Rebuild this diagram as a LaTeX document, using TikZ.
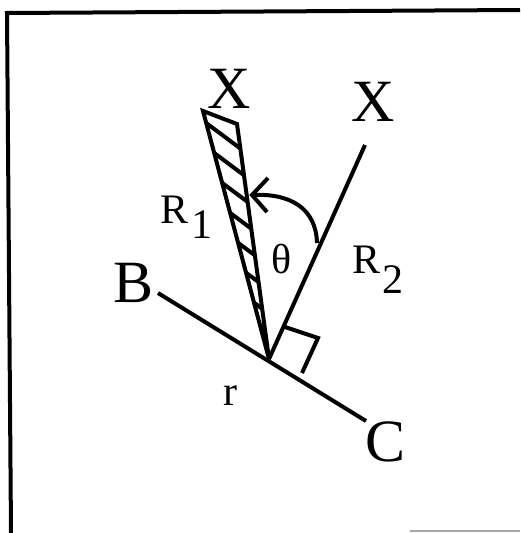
\documentclass[tikz,border=0pt]{standalone}
\usepackage{fontspec}
\setmainfont{Liberation Serif}
\begin{document}
\begin{tikzpicture}[x=1pt,y=-1pt,
  thick line/.style={line width=4pt},
  big/.style={font=\fontsize{60}{60}\selectfont, inner sep=0pt},
  small/.style={font=\fontsize{42}{42}\selectfont, inner sep=0pt}]
\useasboundingbox (0,0) rectangle (520,533);
% frame
\coordinate (fTL) at (7,13);
\coordinate (fTR) at (520,10);
\coordinate (fBL) at (11,533);
\draw[thick line] (fTR) -- (fTL) -- (fBL);
\draw[line width=2pt, black!35] (410,531) -- (520,531);
% key points
\coordinate (P) at (269,359);
\coordinate (Bend) at (158,293);
\coordinate (Cend) at (366,421);
\coordinate (T1) at (203,111);
\coordinate (T1r) at (237,124);
\coordinate (T2) at (365,145);
% base line
\draw[thick line] (Bend) -- (Cend);
% hatched wedge
\begin{scope}
  \clip (T1) -- (T1r) -- (P) -- cycle;
  \foreach \y in {96,120,...,380} {
    \draw[line width=4pt] (170,\y) -- (300,\y+97);
  }
\end{scope}
\draw[thick line, line join=miter] (T1) -- (T1r) -- (P) -- cycle;
% R2 line
\draw[thick line] (P) -- (T2);
% right-angle mark
\coordinate (m1) at (285,327);
\coordinate (m2) at (318,338);
\coordinate (m3) at (302,373);
\draw[thick line] (m1) -- (m2) -- (m3);
% angle arrow
\coordinate (a0) at (317,243);
\coordinate (tip) at (252,195);
\coordinate (b1) at (268,178);
\coordinate (b2) at (267,212);
\draw[thick line] (a0) .. controls (316,208) and (290,193) .. (tip);
\draw[thick line] (b1) -- (tip) -- (b2);
% labels
\node[big, anchor=base] (X1) at (229,108) {X};
\node[big, anchor=base] (X2) at (373,121) {X};
\node[big, anchor=base west] (B) at (113,302) {B};
\node[big, anchor=base] (C) at (386,461) {C};
\node[small, anchor=base west] (R1) at (160,223) {R\hspace{3pt}\raisebox{-15pt}{1}};
\node[small, anchor=base west] (R2) at (352,273) {R\hspace{2pt}\raisebox{-20pt}{2}};
\node[small, anchor=base] (th) at (282,273) {θ};
\node[small, anchor=base] (r) at (230,405) {r};
\end{tikzpicture}
\end{document}
